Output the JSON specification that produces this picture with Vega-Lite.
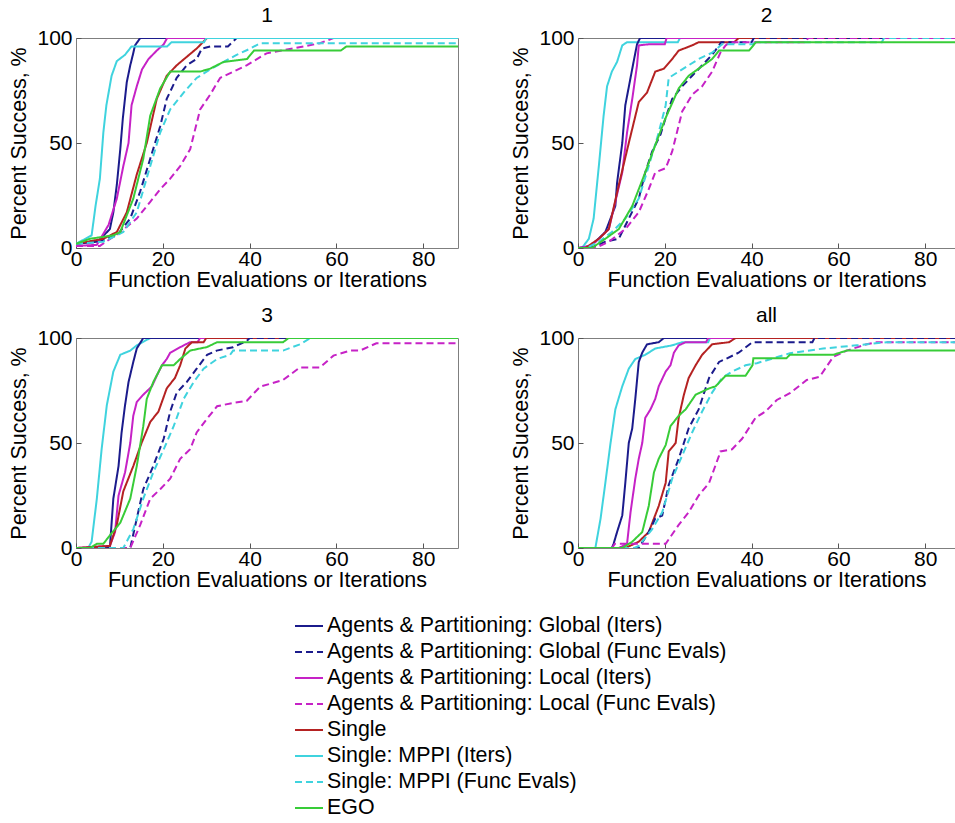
{
"$schema": "https://vega.github.io/schema/vega-lite/v6.json",
"padding": {"left": 8, "top": 4, "right": 0, "bottom": 0},
"autosize": {"type": "pad"},
"background": "white",
"config": {
 "font": "Liberation Sans",
 "view": {"stroke": "#7f7f7f", "strokeWidth": 1},
 "axis": {"grid": false, "labelFontSize": 21, "titleFontSize": 21.5, "titleFontWeight": "normal", "labelColor": "#000", "titleColor": "#000", "domain": false, "tickSize": -5, "tickColor": "#555", "labelFlush": false, "labelOverlap": false, "labelFont": "Liberation Sans", "titleFont": "Liberation Sans"},
 "axisX": {"labelPadding": 5, "titlePadding": 0},
 "axisY": {"labelPadding": 9, "titlePadding": 6},
 "title": {"fontSize": 21, "fontWeight": "normal", "offset": 1, "color": "#000", "font": "Liberation Sans"},
 "legend": {"labelFontSize": 21.4, "labelFont": "Liberation Sans", "labelColor": "#000", "labelLimit": 700, "labelOffset": 3}
},
"datasets": {
 "names": [
  {"s": "GI", "name": "Agents & Partitioning: Global (Iters)"},
  {"s": "GF", "name": "Agents & Partitioning: Global (Func Evals)"},
  {"s": "LI", "name": "Agents & Partitioning: Local (Iters)"},
  {"s": "LF", "name": "Agents & Partitioning: Local (Func Evals)"},
  {"s": "S", "name": "Single"},
  {"s": "MI", "name": "Single: MPPI (Iters)"},
  {"s": "MF", "name": "Single: MPPI (Func Evals)"},
  {"s": "E", "name": "EGO"}
 ],
 "curves": [
{"p":"1","s":"GI","x":0,"y":2},{"p":"1","s":"GI","x":5,"y":3},{"p":"1","s":"GI","x":7.8,"y":9},{"p":"1","s":"GI","x":8.6,"y":17},{"p":"1","s":"GI","x":9.4,"y":30},{"p":"1","s":"GI","x":10.2,"y":47},{"p":"1","s":"GI","x":10.8,"y":62},{"p":"1","s":"GI","x":11.7,"y":79},{"p":"1","s":"GI","x":12.5,"y":87},{"p":"1","s":"GI","x":13.1,"y":92},{"p":"1","s":"GI","x":13.6,"y":96.5},{"p":"1","s":"GI","x":14.8,"y":100},{"p":"1","s":"GI","x":88,"y":100},
{"p":"1","s":"GF","x":0,"y":2},{"p":"1","s":"GF","x":5,"y":3},{"p":"1","s":"GF","x":9.4,"y":6},{"p":"1","s":"GF","x":12.5,"y":14},{"p":"1","s":"GF","x":14.8,"y":27},{"p":"1","s":"GF","x":17.1,"y":42.5},{"p":"1","s":"GF","x":19.4,"y":58},{"p":"1","s":"GF","x":20.9,"y":71},{"p":"1","s":"GF","x":23.2,"y":81},{"p":"1","s":"GF","x":25.5,"y":87},{"p":"1","s":"GF","x":27.8,"y":90},{"p":"1","s":"GF","x":29,"y":95},{"p":"1","s":"GF","x":31,"y":96},{"p":"1","s":"GF","x":35,"y":96},{"p":"1","s":"GF","x":37,"y":100},{"p":"1","s":"GF","x":88,"y":100},
{"p":"1","s":"LI","x":0,"y":1},{"p":"1","s":"LI","x":4.8,"y":1.5},{"p":"1","s":"LI","x":7.5,"y":11},{"p":"1","s":"LI","x":9.4,"y":23.5},{"p":"1","s":"LI","x":10.9,"y":39},{"p":"1","s":"LI","x":12.1,"y":50},{"p":"1","s":"LI","x":12.8,"y":68},{"p":"1","s":"LI","x":14,"y":77},{"p":"1","s":"LI","x":15.2,"y":85},{"p":"1","s":"LI","x":16.7,"y":90},{"p":"1","s":"LI","x":18.6,"y":94},{"p":"1","s":"LI","x":20.2,"y":97},{"p":"1","s":"LI","x":21,"y":100},{"p":"1","s":"LI","x":88,"y":100},
{"p":"1","s":"LF","x":0,"y":1},{"p":"1","s":"LF","x":5.5,"y":1},{"p":"1","s":"LF","x":10.2,"y":7.6},{"p":"1","s":"LF","x":14,"y":14},{"p":"1","s":"LF","x":17.1,"y":22},{"p":"1","s":"LF","x":19.4,"y":28},{"p":"1","s":"LF","x":21.7,"y":33},{"p":"1","s":"LF","x":24,"y":39},{"p":"1","s":"LF","x":26.3,"y":47},{"p":"1","s":"LF","x":28.6,"y":66},{"p":"1","s":"LF","x":30.9,"y":73},{"p":"1","s":"LF","x":33.2,"y":81},{"p":"1","s":"LF","x":39.3,"y":87},{"p":"1","s":"LF","x":43.9,"y":92.7},{"p":"1","s":"LF","x":50,"y":95},{"p":"1","s":"LF","x":56.2,"y":97.5},{"p":"1","s":"LF","x":59.3,"y":100},{"p":"1","s":"LF","x":88,"y":100},
{"p":"1","s":"S","x":0,"y":2},{"p":"1","s":"S","x":6.3,"y":4.4},{"p":"1","s":"S","x":9.4,"y":7.6},{"p":"1","s":"S","x":11.7,"y":17},{"p":"1","s":"S","x":14,"y":35},{"p":"1","s":"S","x":16.3,"y":50},{"p":"1","s":"S","x":18.6,"y":71},{"p":"1","s":"S","x":20.9,"y":82},{"p":"1","s":"S","x":23.2,"y":87},{"p":"1","s":"S","x":25.5,"y":91},{"p":"1","s":"S","x":27.8,"y":95},{"p":"1","s":"S","x":30.2,"y":100},{"p":"1","s":"S","x":88,"y":100},
{"p":"1","s":"MI","x":0,"y":2},{"p":"1","s":"MI","x":3.6,"y":6},{"p":"1","s":"MI","x":4.5,"y":20},{"p":"1","s":"MI","x":5.5,"y":33},{"p":"1","s":"MI","x":6.3,"y":55},{"p":"1","s":"MI","x":7,"y":68},{"p":"1","s":"MI","x":8.2,"y":82},{"p":"1","s":"MI","x":9.4,"y":89},{"p":"1","s":"MI","x":11.3,"y":92},{"p":"1","s":"MI","x":12.8,"y":96},{"p":"1","s":"MI","x":21,"y":96},{"p":"1","s":"MI","x":22,"y":98},{"p":"1","s":"MI","x":29.5,"y":98},{"p":"1","s":"MI","x":30,"y":100},{"p":"1","s":"MI","x":88,"y":100},
{"p":"1","s":"MF","x":0,"y":2},{"p":"1","s":"MF","x":6.3,"y":3},{"p":"1","s":"MF","x":10.9,"y":7.6},{"p":"1","s":"MF","x":14,"y":17},{"p":"1","s":"MF","x":17.1,"y":39},{"p":"1","s":"MF","x":19.4,"y":55},{"p":"1","s":"MF","x":21.7,"y":66},{"p":"1","s":"MF","x":24.8,"y":74},{"p":"1","s":"MF","x":27.8,"y":81},{"p":"1","s":"MF","x":30.9,"y":85},{"p":"1","s":"MF","x":34,"y":88.6},{"p":"1","s":"MF","x":37,"y":92},{"p":"1","s":"MF","x":40.2,"y":95},{"p":"1","s":"MF","x":42.4,"y":97.5},{"p":"1","s":"MF","x":88,"y":97.5},
{"p":"1","s":"E","x":0,"y":2},{"p":"1","s":"E","x":3.2,"y":4.4},{"p":"1","s":"E","x":8.6,"y":6},{"p":"1","s":"E","x":10.2,"y":7.6},{"p":"1","s":"E","x":13.2,"y":23.5},{"p":"1","s":"E","x":15.5,"y":42.5},{"p":"1","s":"E","x":17.1,"y":63},{"p":"1","s":"E","x":19.4,"y":76},{"p":"1","s":"E","x":21.7,"y":84},{"p":"1","s":"E","x":28.6,"y":84},{"p":"1","s":"E","x":30.9,"y":85.4},{"p":"1","s":"E","x":34,"y":88.6},{"p":"1","s":"E","x":39.4,"y":90},{"p":"1","s":"E","x":41,"y":94},{"p":"1","s":"E","x":61,"y":94},{"p":"1","s":"E","x":62.3,"y":96},{"p":"1","s":"E","x":88,"y":96},

{"p":"2","s":"MI","x":0,"y":0},{"p":"2","s":"MI","x":0.9,"y":0},{"p":"2","s":"MI","x":2.5,"y":4.4},{"p":"2","s":"MI","x":3.6,"y":14},{"p":"2","s":"MI","x":4.8,"y":39},{"p":"2","s":"MI","x":5.9,"y":63},{"p":"2","s":"MI","x":6.7,"y":77},{"p":"2","s":"MI","x":7.8,"y":84},{"p":"2","s":"MI","x":9,"y":88.6},{"p":"2","s":"MI","x":10.2,"y":96.5},{"p":"2","s":"MI","x":11.3,"y":98},{"p":"2","s":"MI","x":23,"y":98},{"p":"2","s":"MI","x":23.5,"y":100},{"p":"2","s":"MI","x":88,"y":100},
{"p":"2","s":"GI","x":0,"y":0},{"p":"2","s":"GI","x":3,"y":1},{"p":"2","s":"GI","x":6.3,"y":7.6},{"p":"2","s":"GI","x":8.6,"y":20},{"p":"2","s":"GI","x":9,"y":31},{"p":"2","s":"GI","x":10.2,"y":50},{"p":"2","s":"GI","x":10.9,"y":68},{"p":"2","s":"GI","x":12.1,"y":81},{"p":"2","s":"GI","x":12.8,"y":88.6},{"p":"2","s":"GI","x":13.6,"y":97},{"p":"2","s":"GI","x":14.3,"y":100},{"p":"2","s":"GI","x":88,"y":100},
{"p":"2","s":"LI","x":0,"y":0},{"p":"2","s":"LI","x":3,"y":1},{"p":"2","s":"LI","x":4.8,"y":4.4},{"p":"2","s":"LI","x":7.1,"y":9},{"p":"2","s":"LI","x":8.6,"y":22},{"p":"2","s":"LI","x":10.2,"y":36},{"p":"2","s":"LI","x":11.3,"y":55},{"p":"2","s":"LI","x":12.5,"y":71},{"p":"2","s":"LI","x":13.6,"y":87},{"p":"2","s":"LI","x":14,"y":96.5},{"p":"2","s":"LI","x":16.3,"y":97},{"p":"2","s":"LI","x":20,"y":97},{"p":"2","s":"LI","x":20.4,"y":100},{"p":"2","s":"LI","x":88,"y":100},
{"p":"2","s":"S","x":0,"y":0},{"p":"2","s":"S","x":1.7,"y":0},{"p":"2","s":"S","x":4.8,"y":4.4},{"p":"2","s":"S","x":7.1,"y":9},{"p":"2","s":"S","x":9.4,"y":30},{"p":"2","s":"S","x":11.7,"y":50},{"p":"2","s":"S","x":14,"y":69.5},{"p":"2","s":"S","x":15.9,"y":74},{"p":"2","s":"S","x":17.8,"y":84},{"p":"2","s":"S","x":19.8,"y":85.4},{"p":"2","s":"S","x":21.7,"y":90},{"p":"2","s":"S","x":23.2,"y":94},{"p":"2","s":"S","x":26.3,"y":96.5},{"p":"2","s":"S","x":27.8,"y":98},{"p":"2","s":"S","x":36,"y":98},{"p":"2","s":"S","x":37,"y":100},{"p":"2","s":"S","x":88,"y":100},
{"p":"2","s":"GF","x":0,"y":0},{"p":"2","s":"GF","x":3,"y":0},{"p":"2","s":"GF","x":6.3,"y":3},{"p":"2","s":"GF","x":9.4,"y":4.4},{"p":"2","s":"GF","x":11.7,"y":14},{"p":"2","s":"GF","x":14,"y":23.5},{"p":"2","s":"GF","x":15.5,"y":36},{"p":"2","s":"GF","x":17.1,"y":46},{"p":"2","s":"GF","x":19,"y":54},{"p":"2","s":"GF","x":20.2,"y":62},{"p":"2","s":"GF","x":21.7,"y":71},{"p":"2","s":"GF","x":24,"y":77},{"p":"2","s":"GF","x":26.3,"y":82},{"p":"2","s":"GF","x":28.6,"y":87},{"p":"2","s":"GF","x":30.9,"y":92},{"p":"2","s":"GF","x":32.5,"y":96.5},{"p":"2","s":"GF","x":33,"y":98},{"p":"2","s":"GF","x":40,"y":98},{"p":"2","s":"GF","x":40.5,"y":100},{"p":"2","s":"GF","x":88,"y":100},
{"p":"2","s":"LF","x":0,"y":0},{"p":"2","s":"LF","x":4,"y":0},{"p":"2","s":"LF","x":7.1,"y":3},{"p":"2","s":"LF","x":10.9,"y":9},{"p":"2","s":"LF","x":14,"y":17},{"p":"2","s":"LF","x":16.3,"y":28},{"p":"2","s":"LF","x":17.8,"y":36},{"p":"2","s":"LF","x":20.2,"y":38},{"p":"2","s":"LF","x":21.7,"y":46},{"p":"2","s":"LF","x":24,"y":65},{"p":"2","s":"LF","x":26.3,"y":73},{"p":"2","s":"LF","x":28.6,"y":77},{"p":"2","s":"LF","x":30.9,"y":84},{"p":"2","s":"LF","x":32.8,"y":93},{"p":"2","s":"LF","x":34,"y":96.5},{"p":"2","s":"LF","x":35,"y":98},{"p":"2","s":"LF","x":52.5,"y":98},{"p":"2","s":"LF","x":53,"y":100},{"p":"2","s":"LF","x":88,"y":100},
{"p":"2","s":"MF","x":0,"y":0},{"p":"2","s":"MF","x":2,"y":0},{"p":"2","s":"MF","x":4.8,"y":3},{"p":"2","s":"MF","x":7.8,"y":7.6},{"p":"2","s":"MF","x":10.9,"y":14},{"p":"2","s":"MF","x":14,"y":23.5},{"p":"2","s":"MF","x":16.3,"y":39},{"p":"2","s":"MF","x":18.6,"y":55},{"p":"2","s":"MF","x":20.2,"y":68},{"p":"2","s":"MF","x":20.9,"y":81},{"p":"2","s":"MF","x":23.2,"y":84},{"p":"2","s":"MF","x":25.5,"y":87},{"p":"2","s":"MF","x":27.8,"y":90},{"p":"2","s":"MF","x":30.9,"y":93},{"p":"2","s":"MF","x":33.2,"y":97},{"p":"2","s":"MF","x":40.2,"y":97},{"p":"2","s":"MF","x":41,"y":98},{"p":"2","s":"MF","x":70,"y":98},{"p":"2","s":"MF","x":70.5,"y":100},{"p":"2","s":"MF","x":88,"y":100},
{"p":"2","s":"E","x":0,"y":0},{"p":"2","s":"E","x":3.2,"y":0},{"p":"2","s":"E","x":6.3,"y":4.4},{"p":"2","s":"E","x":9.4,"y":9},{"p":"2","s":"E","x":12.5,"y":20},{"p":"2","s":"E","x":15.5,"y":36},{"p":"2","s":"E","x":17.8,"y":49},{"p":"2","s":"E","x":20.2,"y":62},{"p":"2","s":"E","x":23.2,"y":76},{"p":"2","s":"E","x":25.5,"y":82},{"p":"2","s":"E","x":27.8,"y":85.4},{"p":"2","s":"E","x":30.9,"y":90},{"p":"2","s":"E","x":32.5,"y":94},{"p":"2","s":"E","x":39.4,"y":94},{"p":"2","s":"E","x":41,"y":98},{"p":"2","s":"E","x":88,"y":98},

{"p":"3","s":"MI","x":0,"y":0},{"p":"3","s":"MI","x":2.8,"y":0},{"p":"3","s":"MI","x":3.6,"y":3},{"p":"3","s":"MI","x":4.8,"y":23.5},{"p":"3","s":"MI","x":5.9,"y":47},{"p":"3","s":"MI","x":7.1,"y":68},{"p":"3","s":"MI","x":8.6,"y":84},{"p":"3","s":"MI","x":10.2,"y":92},{"p":"3","s":"MI","x":12.5,"y":94},{"p":"3","s":"MI","x":14,"y":96.5},{"p":"3","s":"MI","x":17.1,"y":100},{"p":"3","s":"MI","x":88,"y":100},
{"p":"3","s":"GI","x":0,"y":0},{"p":"3","s":"GI","x":7.8,"y":0},{"p":"3","s":"GI","x":8.6,"y":23.5},{"p":"3","s":"GI","x":9.8,"y":39},{"p":"3","s":"GI","x":10.5,"y":55},{"p":"3","s":"GI","x":11.3,"y":68},{"p":"3","s":"GI","x":12.1,"y":79},{"p":"3","s":"GI","x":13.2,"y":88.6},{"p":"3","s":"GI","x":14,"y":95},{"p":"3","s":"GI","x":15.5,"y":100},{"p":"3","s":"GI","x":88,"y":100},
{"p":"3","s":"LI","x":0,"y":0},{"p":"3","s":"LI","x":7.8,"y":1},{"p":"3","s":"LI","x":9,"y":7.6},{"p":"3","s":"LI","x":9.8,"y":25},{"p":"3","s":"LI","x":11.3,"y":36},{"p":"3","s":"LI","x":12.5,"y":50},{"p":"3","s":"LI","x":13.2,"y":63},{"p":"3","s":"LI","x":14,"y":69.5},{"p":"3","s":"LI","x":15.5,"y":73},{"p":"3","s":"LI","x":17.5,"y":77},{"p":"3","s":"LI","x":18.6,"y":82},{"p":"3","s":"LI","x":19.8,"y":87},{"p":"3","s":"LI","x":20.9,"y":90},{"p":"3","s":"LI","x":21.7,"y":93},{"p":"3","s":"LI","x":24.8,"y":96.5},{"p":"3","s":"LI","x":26.3,"y":98},{"p":"3","s":"LI","x":28,"y":98},{"p":"3","s":"LI","x":28.6,"y":100},{"p":"3","s":"LI","x":88,"y":100},
{"p":"3","s":"S","x":0,"y":0},{"p":"3","s":"S","x":7.8,"y":1},{"p":"3","s":"S","x":9.4,"y":11},{"p":"3","s":"S","x":10.9,"y":27},{"p":"3","s":"S","x":13.2,"y":39},{"p":"3","s":"S","x":15.1,"y":50},{"p":"3","s":"S","x":17.1,"y":60},{"p":"3","s":"S","x":19,"y":65},{"p":"3","s":"S","x":20.9,"y":76},{"p":"3","s":"S","x":22.8,"y":81},{"p":"3","s":"S","x":24,"y":87},{"p":"3","s":"S","x":25.2,"y":95},{"p":"3","s":"S","x":26.7,"y":98},{"p":"3","s":"S","x":29.4,"y":98},{"p":"3","s":"S","x":30,"y":100},{"p":"3","s":"S","x":88,"y":100},
{"p":"3","s":"GF","x":0,"y":0},{"p":"3","s":"GF","x":12.5,"y":0},{"p":"3","s":"GF","x":14,"y":14},{"p":"3","s":"GF","x":15.5,"y":28},{"p":"3","s":"GF","x":17.8,"y":39},{"p":"3","s":"GF","x":20.2,"y":52},{"p":"3","s":"GF","x":21.7,"y":65},{"p":"3","s":"GF","x":23.2,"y":74},{"p":"3","s":"GF","x":25.5,"y":79},{"p":"3","s":"GF","x":27.8,"y":85.4},{"p":"3","s":"GF","x":30.2,"y":92},{"p":"3","s":"GF","x":32.4,"y":94},{"p":"3","s":"GF","x":36.2,"y":95.6},{"p":"3","s":"GF","x":39.3,"y":98.6},{"p":"3","s":"GF","x":40,"y":100},{"p":"3","s":"GF","x":88,"y":100},
{"p":"3","s":"LF","x":0,"y":0},{"p":"3","s":"LF","x":12.5,"y":0},{"p":"3","s":"LF","x":14.8,"y":11},{"p":"3","s":"LF","x":17.1,"y":23.5},{"p":"3","s":"LF","x":19.4,"y":28},{"p":"3","s":"LF","x":21.7,"y":33},{"p":"3","s":"LF","x":24,"y":42.5},{"p":"3","s":"LF","x":26.3,"y":47},{"p":"3","s":"LF","x":27.8,"y":55},{"p":"3","s":"LF","x":30.2,"y":61.6},{"p":"3","s":"LF","x":32.5,"y":67.5},{"p":"3","s":"LF","x":36,"y":69},{"p":"3","s":"LF","x":39.3,"y":70},{"p":"3","s":"LF","x":42.4,"y":76.8},{"p":"3","s":"LF","x":47.7,"y":80},{"p":"3","s":"LF","x":51.6,"y":86},{"p":"3","s":"LF","x":56.2,"y":86},{"p":"3","s":"LF","x":59.3,"y":91.6},{"p":"3","s":"LF","x":63.1,"y":94},{"p":"3","s":"LF","x":65.4,"y":94},{"p":"3","s":"LF","x":69.2,"y":97.5},{"p":"3","s":"LF","x":88,"y":97.5},
{"p":"3","s":"MF","x":0,"y":0},{"p":"3","s":"MF","x":10.9,"y":0},{"p":"3","s":"MF","x":13.2,"y":9},{"p":"3","s":"MF","x":15.5,"y":23.5},{"p":"3","s":"MF","x":17.8,"y":36},{"p":"3","s":"MF","x":20.2,"y":47},{"p":"3","s":"MF","x":22.5,"y":58},{"p":"3","s":"MF","x":24.8,"y":71},{"p":"3","s":"MF","x":27.1,"y":79},{"p":"3","s":"MF","x":29.4,"y":85.4},{"p":"3","s":"MF","x":32.5,"y":90},{"p":"3","s":"MF","x":35.5,"y":92},{"p":"3","s":"MF","x":36.2,"y":94},{"p":"3","s":"MF","x":47.7,"y":94},{"p":"3","s":"MF","x":51.6,"y":97},{"p":"3","s":"MF","x":54,"y":100},{"p":"3","s":"MF","x":88,"y":100},
{"p":"3","s":"E","x":0,"y":0},{"p":"3","s":"E","x":3.2,"y":0},{"p":"3","s":"E","x":4.8,"y":2},{"p":"3","s":"E","x":6.3,"y":2},{"p":"3","s":"E","x":7.8,"y":6},{"p":"3","s":"E","x":10.2,"y":12},{"p":"3","s":"E","x":12.5,"y":23.5},{"p":"3","s":"E","x":14,"y":39},{"p":"3","s":"E","x":15.5,"y":58},{"p":"3","s":"E","x":16.3,"y":71},{"p":"3","s":"E","x":17.8,"y":79},{"p":"3","s":"E","x":19.8,"y":87},{"p":"3","s":"E","x":22.5,"y":87},{"p":"3","s":"E","x":24,"y":90},{"p":"3","s":"E","x":26.3,"y":94},{"p":"3","s":"E","x":30.2,"y":95.7},{"p":"3","s":"E","x":32.5,"y":98},{"p":"3","s":"E","x":47.7,"y":98},{"p":"3","s":"E","x":49,"y":100},{"p":"3","s":"E","x":88,"y":100},

{"p":"all","s":"MI","x":0,"y":0},{"p":"all","s":"MI","x":4,"y":0},{"p":"all","s":"MI","x":5.2,"y":14},{"p":"all","s":"MI","x":6.3,"y":31},{"p":"all","s":"MI","x":7.5,"y":50},{"p":"all","s":"MI","x":8.6,"y":66},{"p":"all","s":"MI","x":10.2,"y":77},{"p":"all","s":"MI","x":11.7,"y":85.4},{"p":"all","s":"MI","x":13.2,"y":90},{"p":"all","s":"MI","x":15.5,"y":92},{"p":"all","s":"MI","x":17.8,"y":95},{"p":"all","s":"MI","x":21.7,"y":96.5},{"p":"all","s":"MI","x":24,"y":98},{"p":"all","s":"MI","x":30,"y":98},{"p":"all","s":"MI","x":30.4,"y":100},{"p":"all","s":"MI","x":88,"y":100},
{"p":"all","s":"GI","x":0,"y":0},{"p":"all","s":"GI","x":7.8,"y":0},{"p":"all","s":"GI","x":8.2,"y":2},{"p":"all","s":"GI","x":9,"y":7.6},{"p":"all","s":"GI","x":10.2,"y":15.5},{"p":"all","s":"GI","x":10.9,"y":31},{"p":"all","s":"GI","x":11.7,"y":50},{"p":"all","s":"GI","x":12.5,"y":57},{"p":"all","s":"GI","x":13.2,"y":71},{"p":"all","s":"GI","x":14,"y":88.6},{"p":"all","s":"GI","x":14.8,"y":93},{"p":"all","s":"GI","x":15.9,"y":97},{"p":"all","s":"GI","x":18.6,"y":98},{"p":"all","s":"GI","x":19.8,"y":100},{"p":"all","s":"GI","x":88,"y":100},
{"p":"all","s":"LI","x":0,"y":0},{"p":"all","s":"LI","x":9.4,"y":0},{"p":"all","s":"LI","x":11.3,"y":2},{"p":"all","s":"LI","x":12.1,"y":17},{"p":"all","s":"LI","x":13.2,"y":33},{"p":"all","s":"LI","x":14,"y":42.5},{"p":"all","s":"LI","x":14.8,"y":50},{"p":"all","s":"LI","x":15.5,"y":62},{"p":"all","s":"LI","x":16.7,"y":66},{"p":"all","s":"LI","x":17.8,"y":71},{"p":"all","s":"LI","x":18.6,"y":77},{"p":"all","s":"LI","x":20.2,"y":84},{"p":"all","s":"LI","x":21.3,"y":87},{"p":"all","s":"LI","x":22.1,"y":93},{"p":"all","s":"LI","x":23.2,"y":96.5},{"p":"all","s":"LI","x":24.8,"y":98},{"p":"all","s":"LI","x":29.5,"y":98},{"p":"all","s":"LI","x":30,"y":100},{"p":"all","s":"LI","x":88,"y":100},
{"p":"all","s":"S","x":0,"y":0},{"p":"all","s":"S","x":10.9,"y":0},{"p":"all","s":"S","x":14,"y":3},{"p":"all","s":"S","x":16.3,"y":7.6},{"p":"all","s":"S","x":18.6,"y":20},{"p":"all","s":"S","x":20.2,"y":31},{"p":"all","s":"S","x":20.9,"y":46},{"p":"all","s":"S","x":22.5,"y":50},{"p":"all","s":"S","x":23.2,"y":62},{"p":"all","s":"S","x":24.4,"y":73},{"p":"all","s":"S","x":25.5,"y":81},{"p":"all","s":"S","x":27.1,"y":87},{"p":"all","s":"S","x":28.6,"y":92},{"p":"all","s":"S","x":30.9,"y":97},{"p":"all","s":"S","x":34.8,"y":98},{"p":"all","s":"S","x":36.3,"y":100},{"p":"all","s":"S","x":88,"y":100},
{"p":"all","s":"GF","x":0,"y":0},{"p":"all","s":"GF","x":14,"y":0},{"p":"all","s":"GF","x":16.3,"y":7.6},{"p":"all","s":"GF","x":17.8,"y":14},{"p":"all","s":"GF","x":19.4,"y":15.5},{"p":"all","s":"GF","x":20.9,"y":30},{"p":"all","s":"GF","x":23.2,"y":42.5},{"p":"all","s":"GF","x":25.5,"y":57},{"p":"all","s":"GF","x":27.8,"y":66},{"p":"all","s":"GF","x":29.4,"y":76},{"p":"all","s":"GF","x":30.2,"y":81},{"p":"all","s":"GF","x":32.5,"y":88.6},{"p":"all","s":"GF","x":34,"y":90},{"p":"all","s":"GF","x":37,"y":93},{"p":"all","s":"GF","x":40.2,"y":98},{"p":"all","s":"GF","x":54,"y":98},{"p":"all","s":"GF","x":54.5,"y":100},{"p":"all","s":"GF","x":88,"y":100},
{"p":"all","s":"LF","x":0,"y":0},{"p":"all","s":"LF","x":7.8,"y":0},{"p":"all","s":"LF","x":8.5,"y":2},{"p":"all","s":"LF","x":20.2,"y":2},{"p":"all","s":"LF","x":23.2,"y":11},{"p":"all","s":"LF","x":25.5,"y":17},{"p":"all","s":"LF","x":27.8,"y":25},{"p":"all","s":"LF","x":30.2,"y":31},{"p":"all","s":"LF","x":32.5,"y":44},{"p":"all","s":"LF","x":32.8,"y":46},{"p":"all","s":"LF","x":35.5,"y":47},{"p":"all","s":"LF","x":37.8,"y":52},{"p":"all","s":"LF","x":40.9,"y":62},{"p":"all","s":"LF","x":43.2,"y":65},{"p":"all","s":"LF","x":45.8,"y":70.5},{"p":"all","s":"LF","x":48.8,"y":73.7},{"p":"all","s":"LF","x":52.7,"y":80},{"p":"all","s":"LF","x":55.7,"y":81.6},{"p":"all","s":"LF","x":58.8,"y":91},{"p":"all","s":"LF","x":61.9,"y":94},{"p":"all","s":"LF","x":66.5,"y":97},{"p":"all","s":"LF","x":68.8,"y":98},{"p":"all","s":"LF","x":88,"y":98},
{"p":"all","s":"MF","x":0,"y":0},{"p":"all","s":"MF","x":13,"y":0},{"p":"all","s":"MF","x":14,"y":1},{"p":"all","s":"MF","x":17.1,"y":9},{"p":"all","s":"MF","x":19.4,"y":17},{"p":"all","s":"MF","x":21.7,"y":33},{"p":"all","s":"MF","x":24,"y":44},{"p":"all","s":"MF","x":26.3,"y":55},{"p":"all","s":"MF","x":28.6,"y":65},{"p":"all","s":"MF","x":30.9,"y":74},{"p":"all","s":"MF","x":33.2,"y":81},{"p":"all","s":"MF","x":35.5,"y":84},{"p":"all","s":"MF","x":38.6,"y":87},{"p":"all","s":"MF","x":41.2,"y":88},{"p":"all","s":"MF","x":48.8,"y":92.7},{"p":"all","s":"MF","x":56.5,"y":95},{"p":"all","s":"MF","x":64.2,"y":96.5},{"p":"all","s":"MF","x":71.1,"y":98},{"p":"all","s":"MF","x":88,"y":98},
{"p":"all","s":"E","x":0,"y":0},{"p":"all","s":"E","x":10.2,"y":0},{"p":"all","s":"E","x":12.5,"y":3},{"p":"all","s":"E","x":14.8,"y":7.6},{"p":"all","s":"E","x":16.3,"y":20},{"p":"all","s":"E","x":17.5,"y":36},{"p":"all","s":"E","x":18.6,"y":42.5},{"p":"all","s":"E","x":20.2,"y":49},{"p":"all","s":"E","x":21.3,"y":58},{"p":"all","s":"E","x":23.2,"y":63},{"p":"all","s":"E","x":24.8,"y":66},{"p":"all","s":"E","x":27.1,"y":73},{"p":"all","s":"E","x":30.2,"y":76},{"p":"all","s":"E","x":31.7,"y":77},{"p":"all","s":"E","x":34,"y":82},{"p":"all","s":"E","x":38.6,"y":82},{"p":"all","s":"E","x":40.2,"y":87},{"p":"all","s":"E","x":40.4,"y":90.3},{"p":"all","s":"E","x":48,"y":90.3},{"p":"all","s":"E","x":48.8,"y":92},{"p":"all","s":"E","x":58.8,"y":92},{"p":"all","s":"E","x":61.9,"y":94},{"p":"all","s":"E","x":88,"y":94}
 ]
},
"data": {"name": "curves"},
"transform": [{"lookup": "s", "from": {"data": {"name": "names"}, "key": "s", "fields": ["name"]}}],
"columns": 2,
"bounds": "flush",
"spacing": {"row": 90, "column": 120},
"concat": [
 {"title": {"text": "1"}, "width": 382, "height": 210,
  "transform": [{"filter": "datum.p == '1'"}],
  "mark": {"type": "line", "strokeWidth": 2, "clip": true},
  "encoding": {
   "x": {"field": "x", "type": "quantitative", "scale": {"domain": [0, 88], "nice": false, "zero": false}, "axis": {"values": [0, 20, 40, 60, 80], "title": "Function Evaluations or Iterations"}},
   "y": {"field": "y", "type": "quantitative", "scale": {"domain": [0, 100], "nice": false}, "axis": {"values": [0, 50, 100], "title": "Percent Success, %"}},
   "color": {"field": "name", "type": "nominal", "scale": {"domain": ["Agents & Partitioning: Global (Iters)", "Agents & Partitioning: Global (Func Evals)", "Agents & Partitioning: Local (Iters)", "Agents & Partitioning: Local (Func Evals)", "Single", "Single: MPPI (Iters)", "Single: MPPI (Func Evals)", "EGO"], "range": ["#1b1b8c", "#1b1b8c", "#c622c6", "#c622c6", "#b52222", "#3fd3de", "#3fd3de", "#38cc38"]}, "legend": {"orient": "none", "legendX": 218, "legendY": 573, "direction": "vertical", "title": null, "symbolType": "stroke", "symbolSize": 784, "symbolStrokeWidth": 2, "rowPadding": -1.3}},
   "strokeDash": {"field": "name", "type": "nominal", "scale": {"domain": ["Agents & Partitioning: Global (Iters)", "Agents & Partitioning: Global (Func Evals)", "Agents & Partitioning: Local (Iters)", "Agents & Partitioning: Local (Func Evals)", "Single", "Single: MPPI (Iters)", "Single: MPPI (Func Evals)", "EGO"], "range": [[1, 0], [7, 4], [1, 0], [7, 4], [1, 0], [1, 0], [7, 4], [1, 0]]}, "legend": {"orient": "none", "legendX": 218, "legendY": 573, "direction": "vertical", "title": null, "symbolType": "stroke", "symbolSize": 784, "symbolStrokeWidth": 2, "rowPadding": -1.3}}
  }},
 {"title": {"text": "2"}, "width": 377, "height": 210,
  "transform": [{"filter": "datum.p == '2'"}],
  "mark": {"type": "line", "strokeWidth": 2, "clip": true},
  "encoding": {
   "x": {"field": "x", "type": "quantitative", "scale": {"domain": [0, 86.86], "nice": false, "zero": false}, "axis": {"values": [0, 20, 40, 60, 80], "title": "Function Evaluations or Iterations"}},
   "y": {"field": "y", "type": "quantitative", "scale": {"domain": [0, 100], "nice": false}, "axis": {"values": [0, 50, 100], "title": "Percent Success, %"}},
   "color": {"field": "name", "type": "nominal"},
   "strokeDash": {"field": "name", "type": "nominal"}
  }},
 {"title": {"text": "3"}, "width": 382, "height": 210,
  "transform": [{"filter": "datum.p == '3'"}],
  "mark": {"type": "line", "strokeWidth": 2, "clip": true},
  "encoding": {
   "x": {"field": "x", "type": "quantitative", "scale": {"domain": [0, 88], "nice": false, "zero": false}, "axis": {"values": [0, 20, 40, 60, 80], "title": "Function Evaluations or Iterations"}},
   "y": {"field": "y", "type": "quantitative", "scale": {"domain": [0, 100], "nice": false}, "axis": {"values": [0, 50, 100], "title": "Percent Success, %"}},
   "color": {"field": "name", "type": "nominal"},
   "strokeDash": {"field": "name", "type": "nominal"}
  }},
 {"title": {"text": "all"}, "width": 377, "height": 210,
  "transform": [{"filter": "datum.p == 'all'"}],
  "mark": {"type": "line", "strokeWidth": 2, "clip": true},
  "encoding": {
   "x": {"field": "x", "type": "quantitative", "scale": {"domain": [0, 86.86], "nice": false, "zero": false}, "axis": {"values": [0, 20, 40, 60, 80], "title": "Function Evaluations or Iterations"}},
   "y": {"field": "y", "type": "quantitative", "scale": {"domain": [0, 100], "nice": false}, "axis": {"values": [0, 50, 100], "title": "Percent Success, %"}},
   "color": {"field": "name", "type": "nominal"},
   "strokeDash": {"field": "name", "type": "nominal"}
  }}
]
}
